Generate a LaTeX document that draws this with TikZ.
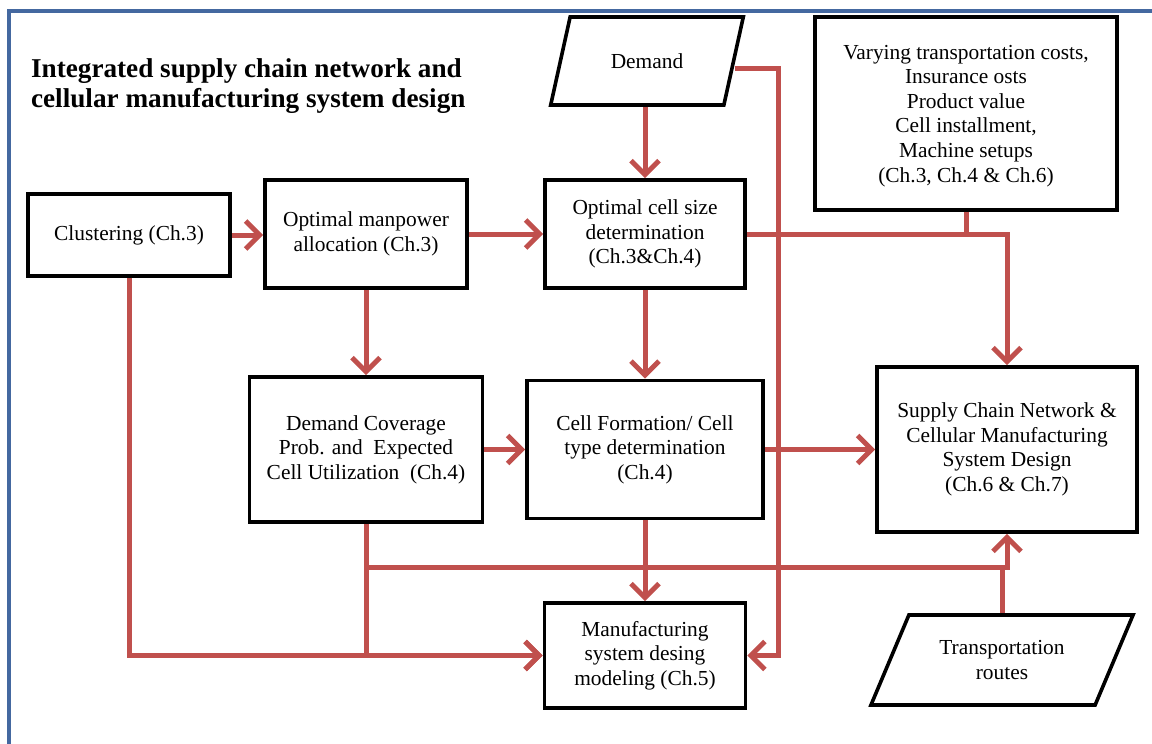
\documentclass[tikz,border=0pt]{standalone}
\usepackage{fontspec}
\setmainfont{Liberation Serif}
\usepackage{tikz}
\usetikzlibrary{arrows.meta,positioning,shapes.geometric}
\definecolor{flowred}{HTML}{C0504D}
\definecolor{frameblue}{HTML}{4468A0}

\tikzset{
  box/.style={draw,line width=1.8pt,align=center,inner sep=2pt,font=\fontsize{10.7}{12.3}\selectfont},
  para/.style={box,trapezium,trapezium stretches=true},
  flow/.style={draw=flowred,line width=2.5pt},
  flowarr/.style={flow,-{Straight Barb[length=7pt,width=14pt]}},
}

\begin{document}
\begin{tikzpicture}[x=0.5pt,y=-0.5pt]
  \useasboundingbox (0,0) rectangle (1152,744);
  \clip (0,0) rectangle (1152,744);
  % frame
  \draw[frameblue,line width=2pt] (9,11) rectangle (1180,780);
  \node[anchor=west,align=left,font=\fontsize{13.6}{15.2}\selectfont\bfseries] (title) at (24,86)
    {Integrated supply chain network and\\cellular manufacturing system design};
  % boxes
  \node[box,minimum width=101pt,minimum height=41pt] (clus) at (129,235) {Clustering (Ch.3)};
  \node[box,minimum width=101pt,minimum height=54pt] (manp) at (366,234) {Optimal manpower\\allocation (Ch.3)};
  \node[box,minimum width=100pt,minimum height=54pt] (csize) at (645,234) {Optimal cell size\\determination\\(Ch.3\&Ch.4)};
  \node[para,trapezium left angle=66,trapezium right angle=114,minimum width=96.5pt,minimum height=44pt,
    text depth=-4pt] (demand) at (647,61) {Demand};
  \node[box,minimum width=151pt,minimum height=96.5pt,text depth=-3pt] (costs) at (966,113.5)
    {Varying transportation costs,\\Insurance osts\\Product value\\Cell installment,\\Machine setups\\(Ch.3, Ch.4 \& Ch.6)};
  \node[box,minimum width=116.5pt,minimum height=72.5pt] (cov) at (366,449.5) {Demand Coverage\\Prob. and\ \ Expected\\Cell Utilization\ \ (Ch.4)};
  \node[box,minimum width=118pt,minimum height=69pt] (cform) at (645,449.5) {Cell Formation/ Cell\\type determination\\(Ch.4)};
  \node[box,minimum width=130pt,minimum height=82.5pt] (scn) at (1007,449.5)
    {Supply Chain Network \&\\Cellular Manufacturing\\System Design\\(Ch.6 \& Ch.7)};
  \node[box,minimum width=100.5pt,minimum height=52.5pt] (manuf) at (645,655.5) {Manufacturing\\system desing\\modeling (Ch.5)};
  \node[para,trapezium left angle=60,trapezium right angle=120,minimum width=132pt,minimum height=45pt] (trans) at (1002,660) {Transportation\\routes};
  \coordinate (dtrunk) at (778,0);
  \coordinate (bus) at (0,567);
  % arrows
  \draw[flowarr] (clus.east) -- (clus.east -| manp.west);
  \draw[flowarr] (manp) -- (csize);
  \draw[flowarr] (demand.south -| csize.north) -- (csize.north);
  \draw[flowarr] ([yshift=-3.5pt]demand.east) -| (dtrunk |- manuf.east) -- (manuf.east);
  \draw[flowarr] (csize.east) -| (scn.north);
  \draw[flow] (costs.south) -- (costs.south |- csize.east);
  \draw[flowarr] (manp) -- (cov);
  \draw[flowarr] (csize) -- (cform);
  \draw[flowarr] (cov) -- (cform);
  \draw[flowarr] (cform) -- (scn);
  \draw[flowarr] (cform) -- (manuf);
  \draw[flowarr] (cov.south) |- (manuf.west);
  \draw[flowarr] (cov.south |- bus) -| (scn.south);
  \draw[flow] (trans.north) -- (trans.north |- bus);
  \draw[flowarr] (clus.south) |- (manuf.west);
\end{tikzpicture}
\end{document}
